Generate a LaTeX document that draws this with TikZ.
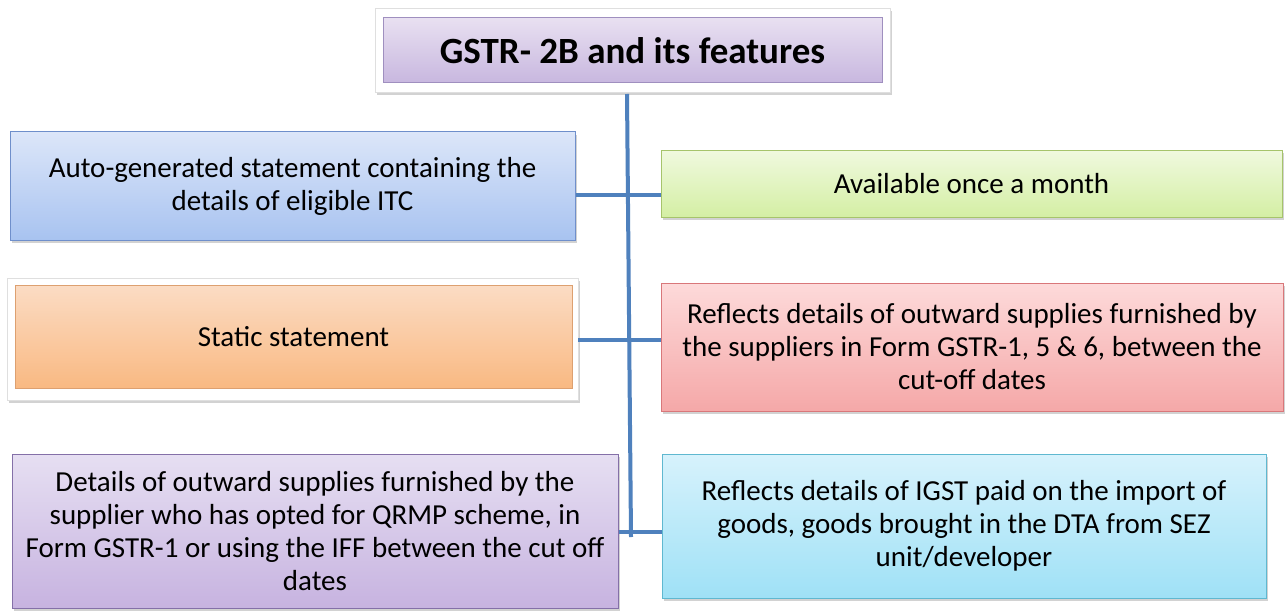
\documentclass[tikz,border=0pt]{standalone}
\usepackage{fontspec}
\setmainfont{Carlito}
\usetikzlibrary{shadows}
\definecolor{connc}{HTML}{4F81BD}
\definecolor{titletop}{HTML}{E8E0F1}
\definecolor{titlebot}{HTML}{C8B7DF}
\definecolor{titleedge}{HTML}{9F8FBF}
\definecolor{bluetop}{HTML}{DCE6F9}
\definecolor{bluebot}{HTML}{A8C3F0}
\definecolor{blueedge}{HTML}{6F8FCB}
\definecolor{greentop}{HTML}{F0F9DF}
\definecolor{greenbot}{HTML}{D4EFA4}
\definecolor{greenedge}{HTML}{A6C46B}
\definecolor{orangetop}{HTML}{FBDCC4}
\definecolor{orangebot}{HTML}{F9B982}
\definecolor{orangeedge}{HTML}{DDA070}
\definecolor{redtop}{HTML}{FDDADA}
\definecolor{redbot}{HTML}{F5A8A8}
\definecolor{rededge}{HTML}{D9777A}
\definecolor{purptop}{HTML}{E6DFF2}
\definecolor{purpbot}{HTML}{C7B3E0}
\definecolor{purpedge}{HTML}{8470A8}
\definecolor{cyantop}{HTML}{D7F2FC}
\definecolor{cyanbot}{HTML}{9FE1F6}
\definecolor{cyanedge}{HTML}{5FB8D0}
\begin{document}
\begin{tikzpicture}[x=1pt,y=-1pt,
  shd/.style={drop shadow={shadow xshift=2pt,shadow yshift=-3pt,opacity=0.35}},
  box/.style={draw,line width=1pt,inner sep=0pt,align=center,
    font=\fontsize{29}{33}\selectfont,shd},
  frame/.style={draw=gray!25,fill=white,line width=0.6pt,inner sep=0pt,shd},
  conn/.style={draw=connc,line width=4pt}]
\useasboundingbox[fill=white] (0,0) rectangle (1287,615);

% title
\node[frame,minimum width=515pt,minimum height=84pt] (titleframe) at (632.5,50) {};
\node[draw=titleedge,line width=1pt,inner sep=0pt,top color=titletop,bottom color=titlebot,
  minimum width=499pt,minimum height=65pt,font=\fontsize{37}{42}\selectfont\bfseries] (title) at (632.5,50.5) {GSTR- 2B and its features};

% left column
\node[box,top color=bluetop,bottom color=bluebot,draw=blueedge,
  minimum width=565pt,minimum height=108pt] (blue) at (292.5,186)
  {Auto-generated statement containing the\\details of eligible ITC};
\node[frame,minimum width=571pt,minimum height=122pt] (orangeframe) at (292.5,339) {};
\node[draw=orangeedge,line width=0.8pt,inner sep=0pt,top color=orangetop,bottom color=orangebot,
  minimum width=557pt,minimum height=103pt,font=\fontsize{29}{33}\selectfont] (orange) at (293.5,336.5) {Static statement};
\node[box,top color=purptop,bottom color=purpbot,draw=purpedge,
  minimum width=606pt,minimum height=154pt] (purple) at (315,531)
  {Details of outward supplies furnished by the\\supplier who has opted for QRMP scheme, in\\Form GSTR-1 or using the IFF between the cut off\\dates};

% right column
\node[box,top color=greentop,bottom color=greenbot,draw=greenedge,
  minimum width=621pt,minimum height=67pt] (green) at (971.5,183.5)
  {Available once a month};
\node[box,top color=redtop,bottom color=redbot,draw=rededge,
  minimum width=622pt,minimum height=128pt] (red) at (972,347)
  {Reflects details of outward supplies furnished by\\the suppliers in Form GSTR-1, 5 \& 6, between the\\cut-off dates};
\node[box,top color=cyantop,bottom color=cyanbot,draw=cyanedge,
  minimum width=604pt,minimum height=144pt] (cyan) at (964,526)
  {Reflects details of IGST paid on the import of\\goods, goods brought in the DTA from SEZ\\unit/developer};

% connectors
\coordinate (vtop) at (627,94);
\coordinate (vbot) at (631,537);
\draw[conn] (vtop) -- (vbot);
\coordinate (c1) at ([yshift=-9pt]blue.east);
\draw[conn] (c1) -- (c1 -| green.west);
\coordinate (c2) at ([yshift=-1pt]orangeframe.east);
\draw[conn] (c2) -- (c2 -| red.west);
\coordinate (c3) at ([yshift=-1pt]purple.east);
\draw[conn] (c3) -- (c3 -| cyan.west);
\end{tikzpicture}
\end{document}
